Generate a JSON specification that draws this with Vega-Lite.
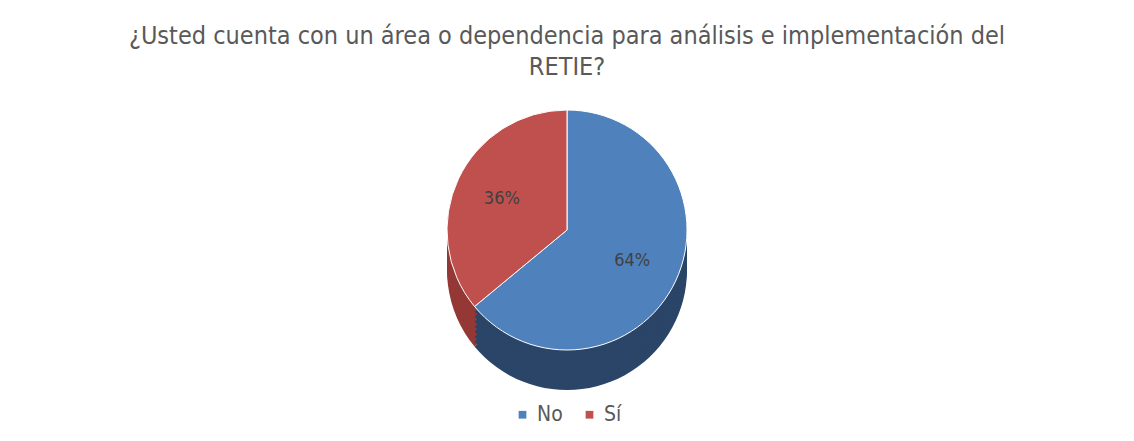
{
  "$schema": "https://vega.github.io/schema/vega-lite/v6.json",
  "width": 1134,
  "height": 441,
  "autosize": {"type": "fit", "contains": "padding"},
  "padding": {"left": 5, "right": 5, "top": 24, "bottom": 16},
  "background": "white",
  "config": {
    "view": {"stroke": null},
    "legend": {"layout": {"bottom": {"anchor": "middle"}}}
  },
  "title": {
    "text": ["¿Usted cuenta con un área o dependencia para análisis e implementación del", "RETIE?"],
    "font": "DejaVu Sans Condensed",
    "fontSize": 25,
    "fontWeight": 300,
    "color": "#595959",
    "lineHeight": 31,
    "offset": 2
  },
  "data": {
    "values": [
      {"respuesta": "No", "porcentaje": 64, "etiqueta": "64%"},
      {"respuesta": "Sí", "porcentaje": 36, "etiqueta": "36%"}
    ]
  },
  "encoding": {
    "theta": {"field": "porcentaje", "type": "quantitative", "stack": true},
    "order": {"field": "respuesta", "type": "nominal", "sort": "ascending"}
  },
  "layer": [
    {
      "mark": {"type": "arc", "outerRadius": 120, "yOffset": 40},
      "encoding": {"fill": {"condition": {"test": "datum.respuesta === 'No'", "value": "#2a4567"}, "value": "#943836"}}
    },
    {
      "mark": {"type": "arc", "outerRadius": 120, "yOffset": 35},
      "encoding": {"fill": {"condition": {"test": "datum.respuesta === 'No'", "value": "#2a4567"}, "value": "#943836"}}
    },
    {
      "mark": {"type": "arc", "outerRadius": 120, "yOffset": 30},
      "encoding": {"fill": {"condition": {"test": "datum.respuesta === 'No'", "value": "#2a4567"}, "value": "#943836"}}
    },
    {
      "mark": {"type": "arc", "outerRadius": 120, "yOffset": 25},
      "encoding": {"fill": {"condition": {"test": "datum.respuesta === 'No'", "value": "#2a4567"}, "value": "#943836"}}
    },
    {
      "mark": {"type": "arc", "outerRadius": 120, "yOffset": 20},
      "encoding": {"fill": {"condition": {"test": "datum.respuesta === 'No'", "value": "#2a4567"}, "value": "#943836"}}
    },
    {
      "mark": {"type": "arc", "outerRadius": 120, "yOffset": 15},
      "encoding": {"fill": {"condition": {"test": "datum.respuesta === 'No'", "value": "#2a4567"}, "value": "#943836"}}
    },
    {
      "mark": {"type": "arc", "outerRadius": 120, "yOffset": 10},
      "encoding": {"fill": {"condition": {"test": "datum.respuesta === 'No'", "value": "#2a4567"}, "value": "#943836"}}
    },
    {
      "mark": {"type": "arc", "outerRadius": 120, "yOffset": 5},
      "encoding": {"fill": {"condition": {"test": "datum.respuesta === 'No'", "value": "#2a4567"}, "value": "#943836"}}
    },
    {
      "mark": {"type": "arc", "outerRadius": 120, "stroke": "white", "strokeWidth": 1},
      "encoding": {
        "color": {
          "field": "respuesta",
          "type": "nominal",
          "scale": {"domain": ["No", "Sí"], "range": ["#4f81bd", "#c0504d"]},
          "legend": {
            "title": null,
            "orient": "bottom",
            "direction": "horizontal",
            "symbolType": "square",
            "symbolSize": 60,
            "symbolStrokeWidth": 0,
            "labelFont": "DejaVu Sans Condensed",
            "labelFontSize": 21,
            "labelColor": "#595959",
            "columnPadding": 16,
            "offset": 26
          }
        }
      }
    },
    {
      "mark": {"type": "text", "radius": 72, "font": "DejaVu Sans Condensed", "fontSize": 18, "color": "#404040"},
      "encoding": {"text": {"field": "etiqueta", "type": "nominal"}}
    }
  ]
}
